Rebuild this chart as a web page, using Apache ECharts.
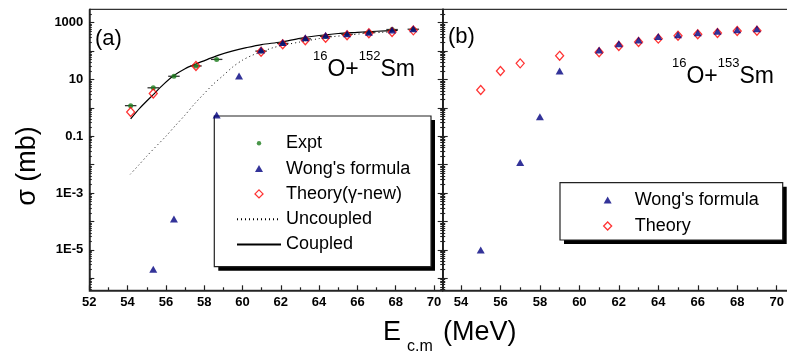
<!DOCTYPE html>
<html><head><meta charset="utf-8">
<script src="https://cdn.jsdelivr.net/npm/echarts@6/dist/echarts.min.js"></script>
<style>html,body{margin:0;padding:0;background:#fff}#c{width:787px;height:356px}</style>
</head><body><div id="c"></div>
<script>
const FONT = '"Liberation Sans", Arial, Helvetica, sans-serif';

// ---------- Panel (a): 16O + 152Sm ----------
const exptE      = [54.16, 55.34, 56.42, 57.57, 58.65, 60.97, 62.1, 63.28, 64.34, 65.46, 66.6, 67.81, 68.92];
const exptSigma  = [1.2, 5.1, 13, 30, 51, 100, 186, 270, 330, 390, 450, 575, 590];
const exptErrE   = [0.3, 0.3, 0.3, 0.3, 0.3, 0.3, 0.3, 0.3, 0.3, 0.3, 0.3, 0.3, 0.3];

const theoryAE     = [54.16, 55.34, 57.57, 60.97, 62.1, 63.28, 64.34, 65.46, 66.6, 67.81, 68.92];
const theoryASigma = [0.72, 3.2, 30, 95, 174, 240, 295, 363, 427, 468, 537];

const wongAE     = [55.34, 56.42, 58.65, 59.82, 60.97, 62.1, 63.28, 64.34, 65.46, 66.6, 67.81, 68.92];
const wongASigma = [2.1e-6, 1.23e-4, 0.56, 13.2, 110, 200, 295, 363, 407, 457, 550, 617];

const uncoupledE     = [54.14, 54.6, 55.0, 55.5, 56.0, 56.5, 57.0, 57.5, 58.0, 58.5, 59.0, 59.5, 60.0, 60.5, 61.0, 61.6, 62.3, 63.0, 64.0, 64.74, 65.5, 66.5, 67.3, 68.1];
const uncoupledSigma = [0.0046, 0.01, 0.02, 0.045, 0.1, 0.24, 0.56, 1.4, 3.2, 7.1, 14, 28, 48, 71, 95, 132, 170, 209, 275, 324, 363, 427, 457, 490];

const coupledE     = [54.16, 54.65, 55.34, 55.86, 56.4, 57.0, 57.6, 58.2, 58.8, 59.5, 60.2, 61.0, 62.0, 63.0, 64.0, 65.0, 66.0, 67.0, 68.1];
const coupledSigma = [0.41, 1.0, 2.95, 6.6, 13.5, 24, 36, 52, 74, 102, 132, 170, 209, 282, 355, 417, 457, 501, 537];

// ---------- Panel (b): 16O + 153Sm ----------
const theoryBE     = [55, 56, 57, 59, 61, 62, 63, 64, 65, 66, 67, 68, 69];
const theoryBSigma = [4.3, 20, 37, 68, 91, 151, 209, 275, 347, 389, 437, 513, 525];

const wongBE     = [55, 57, 58, 59, 61, 62, 63, 64, 65, 66, 67, 68, 69];
const wongBSigma = [1e-5, 0.012, 0.49, 20, 110, 182, 245, 324, 380, 447, 501, 562, 617];

// ---------- ticks ----------
const xTicksA = [52, 54, 56, 58, 60, 62, 64, 66, 68, 70];
const xMinorA = [53, 55, 57, 59, 61, 63, 65, 67, 69];
const xTicksB = [54, 56, 58, 60, 62, 64, 66, 68, 70];
const xMinorB = [55, 57, 59, 61, 63, 65, 67, 69];
const yTickValues = [1000, 10, 0.1, 1e-3, 1e-5];
const yTickLabels = ['1000', '10', '0.1', '1E-3', '1E-5'];

// ---------- helpers ----------
const lg = v => Math.log10(v);
const pts = (xs, ys) => xs.map((x, i) => [x, lg(ys[i])]);
const Y_MIN = -6.423, Y_MAX = 3.472;
const yMajor = []; for (let e = -6; e <= 3; e++) yMajor.push(e);
const yMinor = [];
for (let e = -7; e <= 3; e++) for (let k = 2; k <= 9; k++) { const v = e + Math.log10(k); if (v > Y_MIN && v < Y_MAX) yMinor.push(v); }
const yLabelPos = yTickValues.map(lg);
const yLabelFmt = v => { const i = yLabelPos.findIndex(p => Math.abs(p - v) < 1e-6); return i >= 0 ? yTickLabels[i] : ''; };

const AXC = '#222';
function xAx(grid, min, max, ticks, len, labels) {
  return {
    type: 'value', gridIndex: grid, min: min, max: max, position: 'bottom',
    axisLine: { show: labels, onZero: false, lineStyle: { color: AXC, width: 1.5 } },
    axisTick: { show: true, inside: true, length: len, customValues: ticks, lineStyle: { color: AXC, width: 1.2 } },
    axisLabel: { show: labels, customValues: ticks, margin: 6, fontSize: 13, fontWeight: 'bold', color: '#000', fontFamily: FONT, formatter: v => String(Math.round(v)) },
    splitLine: { show: false }, minorTick: { show: false }
  };
}
function yAx(grid, pos, ticks, len, labels, line) {
  return {
    type: 'value', gridIndex: grid, min: Y_MIN, max: Y_MAX, position: pos,
    axisLine: { show: line, onZero: false, lineStyle: { color: AXC, width: 1.5 } },
    axisTick: { show: true, inside: true, length: len, customValues: ticks, lineStyle: { color: AXC, width: 1.1 } },
    axisLabel: { show: labels, customValues: yLabelPos, margin: 6, fontSize: 13, fontWeight: 'bold', color: '#000', fontFamily: FONT, formatter: yLabelFmt },
    splitLine: { show: false }, minorTick: { show: false }
  };
}

const A_MIN = 52, A_MAX = 70.454, B_MIN = 53.073, B_MAX = 70.559;

const errRender = function (params, api) {
  const x = api.value(0), y = api.value(1), e = api.value(2);
  const p1 = api.coord([x - e, y]), p2 = api.coord([x + e, y]);
  return { type: 'line', shape: { x1: p1[0], y1: p1[1], x2: p2[0], y2: p2[1] }, style: { stroke: '#333', lineWidth: 1.3 } };
};

const diamondStyle = { color: 'rgba(255,255,255,0)', borderColor: '#ff0000', borderWidth: 1.3 };
const triColor = '#00007f';
const ICON_DOT = 'path://M0,0M8,8M1.8,4A2.2,2.2,0,1,1,6.2,4A2.2,2.2,0,1,1,1.8,4Z';
const ICON_TRI = 'path://M0,0M8,8M4,0.5L8,7.5L0,7.5Z';
const ICON_DIA = 'path://M0,0M8,8M4,0L8,4L4,8L0,4Z';

const legendCommon = {
  orient: 'vertical', itemWidth: 44, itemHeight: 8, selectedMode: false, padding: 0,
  textStyle: { fontSize: 18, lineHeight: 20, color: '#000', fontFamily: FONT },
  backgroundColor: 'transparent', borderWidth: 0, z: 5
};

// legend frame + L-shaped drop shadow (offset 4px) as graphic elements
function frame(id, x, y, w, h) {
  const d = 4;
  return [
    { type: 'polygon', id: id + '_sh', z: 3, shape: { points: [[x + w, y + d], [x + w + d, y + d], [x + w + d, y + h + d], [x + d, y + h + d], [x + d, y + h], [x + w, y + h]] }, style: { fill: '#000' } },
    { type: 'rect', id: id + '_bx', z: 4, shape: { x: x, y: y, width: w, height: h }, style: { fill: '#fff', stroke: '#222', lineWidth: 1.2 } }
  ];
}

const option = {
  animation: false,
  textStyle: { fontFamily: FONT },
  grid: [
    { left: 89.3, top: 9.3, width: 353.4, height: 281, show: true, borderColor: '#000', borderWidth: 1, backgroundColor: 'transparent', containLabel: false, outerBoundsMode: 'none' },
    { left: 442.7, top: 9.3, width: 345, height: 281, show: true, borderColor: '#000', borderWidth: 1, backgroundColor: 'transparent', containLabel: false, outerBoundsMode: 'none' }
  ],
  xAxis: [
    xAx(0, A_MIN, A_MAX, xTicksA, 5, true),
    xAx(0, A_MIN, A_MAX, xMinorA, 3, false),
    xAx(1, B_MIN, B_MAX, xTicksB, 5, true),
    xAx(1, B_MIN, B_MAX, xMinorB, 3, false)
  ],
  yAxis: [
    yAx(0, 'left', yMajor, 5, true, true),
    yAx(0, 'left', yMinor, 2.5, false, false),
    yAx(0, 'right', yMajor, 5, false, true),
    yAx(0, 'right', yMinor, 2.5, false, false),
    yAx(1, 'left', yMajor, 5, false, true),
    yAx(1, 'left', yMinor, 2.5, false, false)
  ],
  legend: [
    Object.assign({}, legendCommon, {
      left: 236, top: 133.3, itemGap: 5.3,
      data: [
        { name: 'Expt', icon: ICON_DOT },
        { name: "Wong's formula", icon: ICON_TRI },
        { name: 'Theory(γ-new)', icon: ICON_DIA, itemStyle: diamondStyle },
        { name: 'Uncoupled', itemStyle: { opacity: 0 } },
        { name: 'Coupled', itemStyle: { opacity: 0 } }
      ]
    }),
    Object.assign({}, legendCommon, {
      left: 603, top: 190, itemGap: 6,
      data: [{ name: "Wong's formula", icon: ICON_TRI }, { name: 'Theory', icon: ICON_DIA, itemStyle: diamondStyle }]
    })
  ],
  series: [
    { name: 'Uncoupled', type: 'line', xAxisIndex: 0, yAxisIndex: 0, data: pts(uncoupledE, uncoupledSigma), symbol: 'none', smooth: 0.3,
      lineStyle: { color: '#000', width: 1, type: [1, 3] }, itemStyle: { color: '#000' }, z: 2 },
    { name: 'Coupled', type: 'line', xAxisIndex: 0, yAxisIndex: 0, data: pts(coupledE, coupledSigma), symbol: 'none', smooth: 0.3,
      lineStyle: { color: '#000', width: 1.2, type: 'solid' }, itemStyle: { color: '#000' }, z: 2 },
    { name: 'Expt error', type: 'custom', xAxisIndex: 0, yAxisIndex: 0, renderItem: errRender, encode: { x: 0, y: 1 },
      data: exptE.map((x, i) => [x, lg(exptSigma[i]), exptErrE[i]]), z: 3 },
    { name: 'Expt', type: 'scatter', xAxisIndex: 0, yAxisIndex: 0, data: pts(exptE, exptSigma), symbol: 'circle', symbolSize: 5,
      itemStyle: { color: '#1c7c1c' }, z: 4 },
    { name: 'Theory(γ-new)', type: 'scatter', xAxisIndex: 0, yAxisIndex: 0, data: pts(theoryAE, theoryASigma), symbol: 'diamond', symbolSize: [8, 9],
      itemStyle: diamondStyle, z: 5 },
    { name: "Wong's formula", type: 'scatter', xAxisIndex: 0, yAxisIndex: 0, data: pts(wongAE, wongASigma), symbol: 'triangle', symbolSize: [8, 7],
      itemStyle: { color: triColor }, z: 6 },
    { name: 'Theory', type: 'scatter', xAxisIndex: 2, yAxisIndex: 4, data: pts(theoryBE, theoryBSigma), symbol: 'diamond', symbolSize: [8, 9],
      itemStyle: diamondStyle, z: 5 },
    { name: "Wong's formula", type: 'scatter', xAxisIndex: 2, yAxisIndex: 4, data: pts(wongBE, wongBSigma), symbol: 'triangle', symbolSize: [8, 7],
      itemStyle: { color: triColor }, z: 6 }
  ],
  graphic: [].concat(
    frame('lga', 214.3, 116, 216.7, 150.7),
    frame('lgb', 560, 182.7, 222.7, 57.3),
    [
      { type: 'text', id: 'pa', z: 5, left: 95, top: 28, style: { text: '(a)', font: '22px ' + FONT, fill: '#000' } },
      { type: 'text', id: 'pb', z: 5, left: 448, top: 26, style: { text: '(b)', font: '22px ' + FONT, fill: '#000' } },
      { type: 'text', id: 'fa', z: 5, x: 313, y: 50, style: { text: '{s|16}{m|O+}{s|152}{m|Sm}', fill: '#000', verticalAlign: 'top',
          rich: { s: { fontSize: 13, fontFamily: FONT, verticalAlign: 'top', lineHeight: 31 }, m: { fontSize: 23, fontFamily: FONT, verticalAlign: 'bottom', lineHeight: 31 } } } },
      { type: 'text', id: 'fb', z: 5, x: 672, y: 57, style: { text: '{s|16}{m|O+}{s|153}{m|Sm}', fill: '#000', verticalAlign: 'top',
          rich: { s: { fontSize: 13, fontFamily: FONT, verticalAlign: 'top', lineHeight: 31 }, m: { fontSize: 23, fontFamily: FONT, verticalAlign: 'bottom', lineHeight: 31 } } } },
      { type: 'text', id: 'yt', z: 5, x: 28, y: 166, rotation: Math.PI / 2, style: { text: 'σ (mb)', font: '27px ' + FONT, fill: '#000', align: 'center', verticalAlign: 'middle' } },
      { type: 'text', id: 'xt1', z: 5, x: 383, y: 333, style: { text: 'E', font: '27px ' + FONT, fill: '#000', align: 'left', verticalAlign: 'middle' } },
      { type: 'text', id: 'xt2', z: 5, x: 407, y: 347, style: { text: 'c.m', font: '16px ' + FONT, fill: '#000', align: 'left', verticalAlign: 'middle' } },
      { type: 'text', id: 'xt3', z: 5, x: 443, y: 333, style: { text: '(MeV)', font: '27px ' + FONT, fill: '#000', align: 'left', verticalAlign: 'middle' } }
    ]
  )
};

const chart = echarts.init(document.getElementById('c'), null, { renderer: 'canvas' });
chart.setOption(option);
</script></body></html>
